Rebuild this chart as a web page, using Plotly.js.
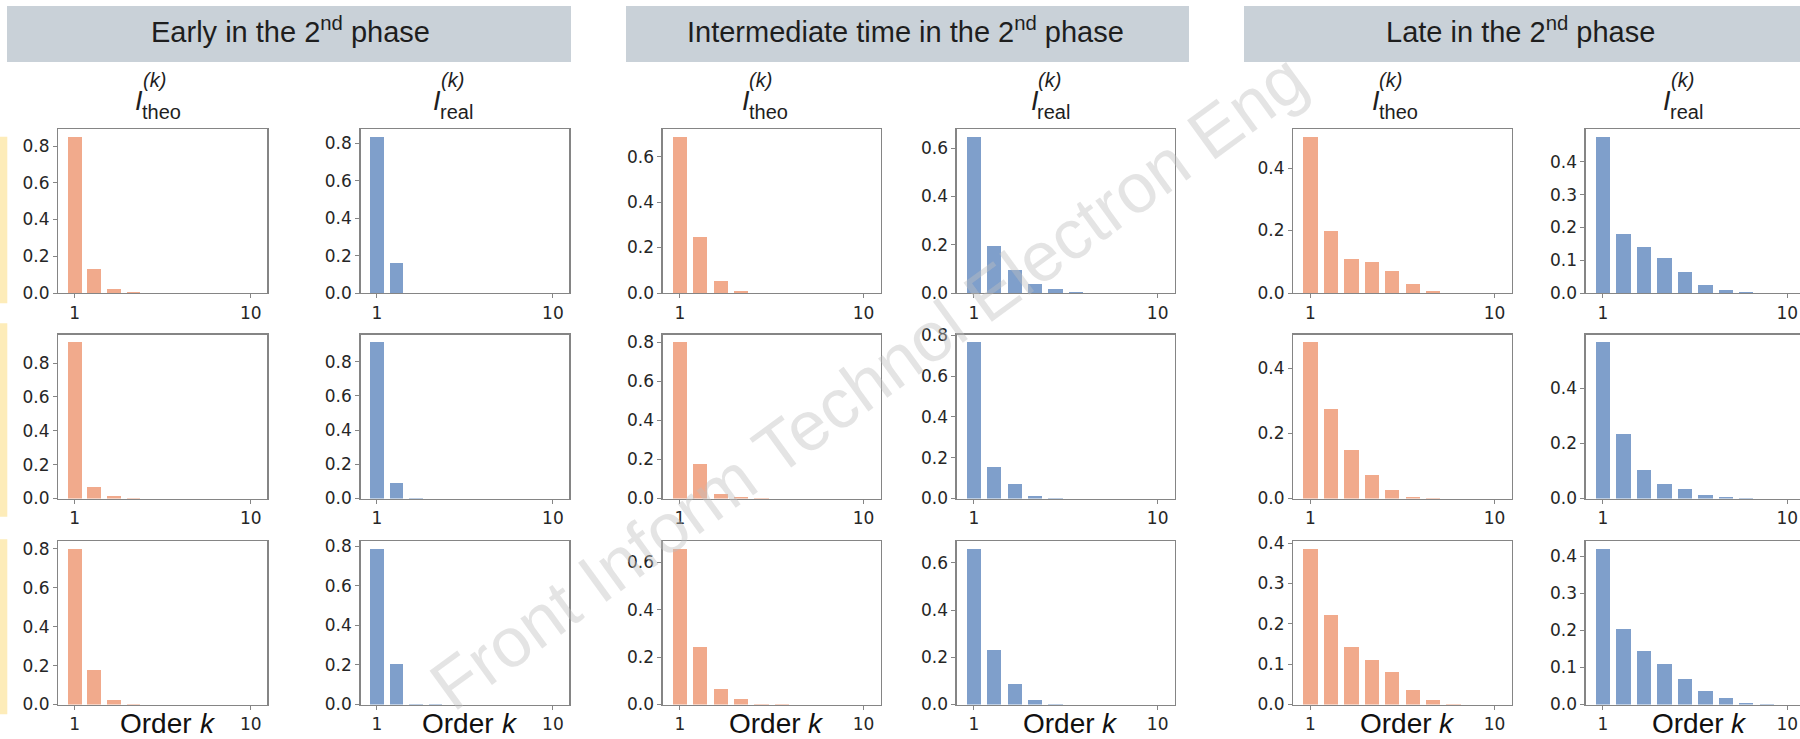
<!DOCTYPE html>
<html><head><meta charset="utf-8">
<script src="https://cdn.plot.ly/plotly-3.0.1.min.js"></script>
<style>html,body{margin:0;padding:0;background:#fff}#chart{width:1800px;height:739px}</style>
</head><body><div id="chart"></div>
<script>
// ---------------- data ----------------
const orders = [1, 2, 3, 4, 5, 6, 7, 8, 9, 10];
const xTickValues = [1, 10];
const xTickLabels = ['1', '10'];
const phaseTitles = ['Early in the 2<sup>nd</sup> phase', 'Intermediate time in the 2<sup>nd</sup> phase', 'Late in the 2<sup>nd</sup> phase'];
const quantityNames = ['theo', 'real'];
const xAxisTitleWord = 'Order';
const xAxisTitleSymbol = 'k';
const watermarkText = 'Front Inform Technol Electron Eng';

// Early in the 2nd phase
const earlyTheo1 = [0.850, 0.133, 0.020, 0.003, 0.0005, 0, 0, 0, 0, 0];
const earlyReal1 = [0.836, 0.163, 0.001, 0, 0, 0, 0, 0, 0, 0];
const earlyTheo2 = [0.923, 0.068, 0.012, 0.001, 0, 0, 0, 0, 0, 0];
const earlyReal2 = [0.913, 0.088, 0.002, 0, 0, 0, 0, 0, 0, 0];
const earlyTheo3 = [0.800, 0.175, 0.021, 0.002, 0, 0, 0, 0, 0, 0];
const earlyReal3 = [0.787, 0.206, 0.004, 0.0005, 0, 0, 0, 0, 0, 0];
// Intermediate time in the 2nd phase
const interTheo1 = [0.687, 0.246, 0.054, 0.010, 0.002, 0.0003, 0, 0, 0, 0];
const interReal1 = [0.647, 0.196, 0.094, 0.039, 0.017, 0.005, 0.001, 0, 0, 0];
const interTheo2 = [0.800, 0.177, 0.022, 0.007, 0.001, 0, 0, 0, 0, 0];
const interReal2 = [0.765, 0.152, 0.069, 0.010, 0.001, 0, 0, 0, 0, 0];
const interTheo3 = [0.658, 0.241, 0.066, 0.025, 0.004, 0.0005, 0, 0, 0, 0];
const interReal3 = [0.660, 0.232, 0.085, 0.017, 0.002, 0, 0, 0, 0, 0];
// Late in the 2nd phase
const lateTheo1 = [0.500, 0.198, 0.109, 0.098, 0.069, 0.030, 0.005, 0.0005, 0, 0];
const lateReal1 = [0.476, 0.180, 0.139, 0.107, 0.063, 0.024, 0.008, 0.002, 0, 0];
const lateTheo2 = [0.480, 0.274, 0.149, 0.072, 0.025, 0.005, 0.001, 0, 0, 0];
const lateReal2 = [0.566, 0.235, 0.104, 0.054, 0.033, 0.011, 0.005, 0.001, 0, 0];
const lateTheo3 = [0.386, 0.223, 0.143, 0.111, 0.080, 0.036, 0.010, 0.001, 0, 0];
const lateReal3 = [0.420, 0.203, 0.143, 0.108, 0.070, 0.036, 0.017, 0.003, 0.0003, 0];

// row-major panel order: [early theo, early real, inter theo, inter real, late theo, late real]
const panelRows = [
  [earlyTheo1, earlyReal1, interTheo1, interReal1, lateTheo1, lateReal1],
  [earlyTheo2, earlyReal2, interTheo2, interReal2, lateTheo2, lateReal2],
  [earlyTheo3, earlyReal3, interTheo3, interReal3, lateTheo3, lateReal3]
];

// ---------------- layout constants (pixels) ----------------
const W = 1800, H = 739;
const colX = [[58.3, 267.3], [360.5, 569.3], [662.7, 880.7], [956.7, 1174.8], [1293.3, 1511.7], [1585.7, 1800]];
const rowY = [[129, 293], [334.5, 498.5], [541, 704.5]];
const xRanges = [[0.16, 10.84], [0.16, 10.84], [0.16, 10.84], [0.16, 10.84], [0.16, 10.84], [0.16, 10.62]];
const yDticks = [
  [0.2, 0.2, 0.2, 0.2, 0.2, 0.1],
  [0.2, 0.2, 0.2, 0.2, 0.2, 0.2],
  [0.2, 0.2, 0.2, 0.2, 0.1, 0.1]
];
const headerBoxes = [[7, 571], [626, 1189], [1244, 1800]];
const headerTextX = [290, 906, 1520];
const titleILeft = [135, 433.3, 741.7, 1030.5, 1371.7, 1663.3];
const yellowStrips = [[136.7, 303.3], [323.3, 516.7], [539.3, 714.3]];

const colors = {theo: '#f1aa8c', real: '#7f9fcb'};
const headerFill = '#c9d1d8';
const spineColor = '#858585';
const textFont = 'Liberation Sans, Arial, Helvetica, sans-serif';
const tickFont = 'DejaVu Sans, Verdana, sans-serif';

const px = x => x / W;
const py = y => 1 - y / H;

const traces = [];
const layout = {
  width: W, height: H,
  margin: {l: 0, r: 0, t: 0, b: 0},
  paper_bgcolor: '#ffffff', plot_bgcolor: '#ffffff',
  showlegend: false,
  bargap: 0,
  shapes: [], annotations: []
};

panelRows.forEach((row, r) => {
  row.forEach((vals, c) => {
    const i = r * 6 + c;
    const xa = i === 0 ? 'x' : 'x' + (i + 1);
    const ya = i === 0 ? 'y' : 'y' + (i + 1);
    const kind = quantityNames[c % 2];
    traces.push({
      type: 'bar', x: orders, y: vals, width: 0.7,
      marker: {color: colors[kind], line: {width: 0}},
      xaxis: xa, yaxis: ya, hoverinfo: 'skip'
    });
    const ymax = Math.max(...vals) * 1.05;
    const last = c === 5;
    layout['xaxis' + (i === 0 ? '' : i + 1)] = {
      domain: [px(colX[c][0]), px(colX[c][1])],
      anchor: ya, range: xRanges[c], fixedrange: true,
      tickvals: xTickValues, ticktext: xTickLabels,
      ticks: 'outside', ticklen: 4, tickwidth: 1, tickcolor: spineColor,
      showline: true, linecolor: spineColor, linewidth: 1.3, mirror: true,
      showgrid: false, zeroline: false,
      tickfont: {family: tickFont, size: 17, color: '#262626'}
    };
    layout['yaxis' + (i === 0 ? '' : i + 1)] = {
      domain: [py(rowY[r][1]), py(rowY[r][0])],
      anchor: xa, range: [0, ymax], fixedrange: true,
      tick0: 0, dtick: yDticks[r][c], tickformat: '.1f',
      ticks: 'outside', ticklen: 4, tickwidth: 1, tickcolor: spineColor,
      showline: true, linecolor: spineColor, linewidth: 1.3, mirror: !last,
      showgrid: false, zeroline: false,
      tickfont: {family: tickFont, size: 17, color: '#262626'}
    };
  });
});

// header boxes and texts
headerBoxes.forEach((b, g) => {
  layout.shapes.push({type: 'rect', xref: 'paper', yref: 'paper', x0: px(b[0]), x1: px(b[1]), y0: py(62), y1: py(6),
    fillcolor: headerFill, line: {width: 0}, layer: 'below'});
  layout.annotations.push({xref: 'paper', yref: 'paper', x: px(headerTextX[g]), y: py(41.7 + 0.212 * 29),
    xanchor: 'center', yanchor: 'bottom', showarrow: false, borderpad: 0, borderwidth: 0,
    text: phaseTitles[g], font: {family: textFont, size: 29, color: '#1e1e1e'}});
});

// yellow row markers at the left edge
yellowStrips.forEach(s => {
  layout.shapes.push({type: 'rect', xref: 'paper', yref: 'paper', x0: 0, x1: px(7.3), y0: py(s[1]), y1: py(s[0]),
    fillcolor: '#fdecb9', line: {width: 0}, layer: 'below'});
});

// column titles I^(k)_theo / I^(k)_real and x-axis titles
colX.forEach((cx, c) => {
  const kind = quantityNames[c % 2];
  const L = titleILeft[c];
  const base = {xref: 'paper', yref: 'paper', xanchor: 'left', yanchor: 'bottom', showarrow: false, borderpad: 0, borderwidth: 0};
  layout.annotations.push(Object.assign({}, base, {x: px(L), y: py(110.5 + 0.212 * 27), text: 'I',
    font: {family: textFont, size: 27, color: '#1e1e1e', style: 'italic'}}));
  layout.annotations.push(Object.assign({}, base, {x: px(L + 6.8), y: py(118.3 + 0.212 * 20), text: kind,
    font: {family: textFont, size: 20, color: '#1e1e1e'}}));
  layout.annotations.push(Object.assign({}, base, {x: px(L + 7.5), y: py(86.5 + 0.212 * 20), text: '(k)',
    font: {family: textFont, size: 20, color: '#1e1e1e', style: 'italic'}}));
  const cw = c === 5 ? 218 : (cx[1] - cx[0]);
  const left = cx[0] + cw / 2 + 4 - 46.7;
  layout.annotations.push(Object.assign({}, base, {x: px(left), y: py(732.7 + 0.212 * 28),
    text: xAxisTitleWord, font: {family: textFont, size: 28, color: '#111111'}}));
  layout.annotations.push(Object.assign({}, base, {x: px(left + 79.4), y: py(732.7 + 0.212 * 28),
    text: xAxisTitleSymbol, font: {family: textFont, size: 28, color: '#111111', style: 'italic'}}));
});

// watermark
layout.annotations.push({xref: 'paper', yref: 'paper', x: px(868), y: py(382), xanchor: 'center', yanchor: 'middle',
  showarrow: false, text: watermarkText, textangle: -36,
  font: {family: textFont, size: 70, color: 'rgba(190,190,190,0.42)'}});

Plotly.newPlot('chart', traces, layout, {staticPlot: true, displayModeBar: false});
</script>
</body></html>
